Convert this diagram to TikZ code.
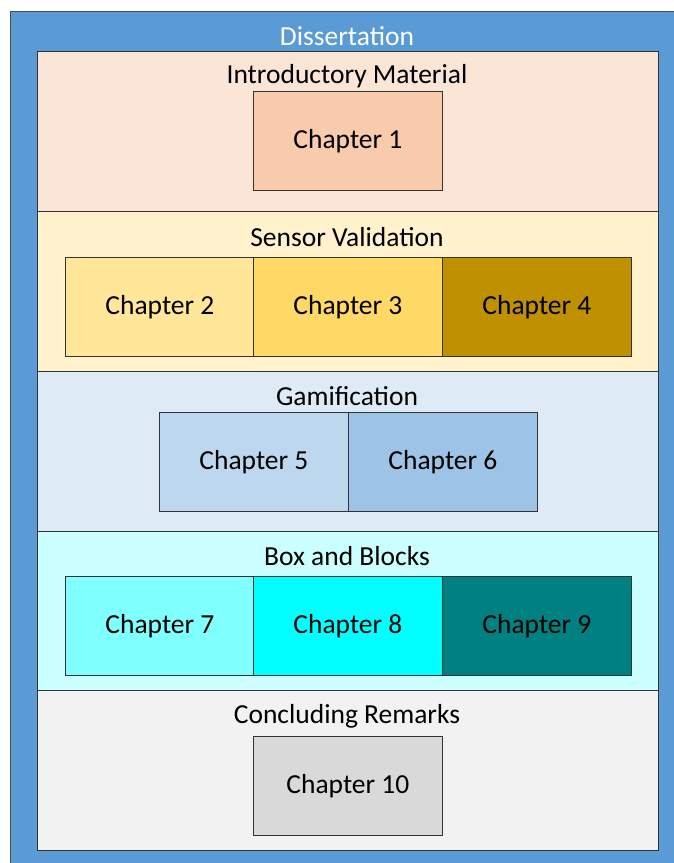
\documentclass[tikz,border=0pt]{standalone}
\usepackage{fontspec}
\setmainfont{Carlito}
\definecolor{frameblue}{HTML}{5B9BD5}
\definecolor{introband}{HTML}{FBE5D6}
\definecolor{introbox}{HTML}{F8CBAD}
\definecolor{sensorband}{HTML}{FFF2CC}
\definecolor{sensorA}{HTML}{FFE699}
\definecolor{sensorB}{HTML}{FFD966}
\definecolor{sensorC}{HTML}{BF9000}
\definecolor{gameband}{HTML}{DEEBF7}
\definecolor{gameA}{HTML}{BDD7EE}
\definecolor{gameB}{HTML}{9DC3E6}
\definecolor{boxband}{HTML}{CCFFFF}
\definecolor{boxA}{HTML}{80FFFF}
\definecolor{boxB}{HTML}{00FFFF}
\definecolor{boxC}{HTML}{008080}
\definecolor{concband}{HTML}{F2F2F2}
\definecolor{concbox}{HTML}{D9D9D9}
\begin{document}
\begin{tikzpicture}[
    x=1pt, y=-1pt,
    font=\fontsize{27.5}{31}\selectfont,
    band/.style={draw=black!80, line width=0.8pt, minimum width=621pt, minimum height=160pt, anchor=north west, inner sep=0pt},
    chap/.style={draw=black!80, line width=0.8pt, minimum width=189pt, minimum height=99pt, anchor=north west, inner sep=0pt},
    title/.style={anchor=center, inner sep=0pt}
]
\useasboundingbox (0,0) rectangle (674,863);

% Outer frame
\node[draw=black!70, line width=1pt, fill=frameblue, minimum width=680pt, minimum height=870pt, anchor=north west, inner sep=0pt] (diss) at (10,11) {};
\node[title, text=white] (disstitle) at (347,36) {Dissertation};

% Introductory material
\node[band, fill=introband] (intro) at (37,51) {};
\node[title] (introtitle) at (347,76) {Introductory Material};
\node[chap, fill=introbox] (ch1) at (253,91) {Chapter 1};

% Sensor validation
\node[band, fill=sensorband] (sensor) at (37,211) {};
\node[title] (sensortitle) at (347,237) {Sensor Validation};
\node[chap, fill=sensorA] (ch2) at (65,257) {Chapter 2};
\node[chap, fill=sensorB] (ch3) at (253,257) {Chapter 3};
\node[chap, fill=sensorC] (ch4) at (442,257) {Chapter 4};

% Gamification
\node[band, fill=gameband] (game) at (37,371) {};
\node[title] (gametitle) at (347,396) {Gamification};
\node[chap, fill=gameA] (ch5) at (159,412) {Chapter 5};
\node[chap, fill=gameB] (ch6) at (348,412) {Chapter 6};

% Box and blocks
\node[band, fill=boxband] (boxes) at (37,531) {};
\node[title] (boxestitle) at (347,556) {Box and Blocks};
\node[chap, fill=boxA] (ch7) at (65,576) {Chapter 7};
\node[chap, fill=boxB] (ch8) at (253,576) {Chapter 8};
\node[chap, fill=boxC] (ch9) at (442,576) {Chapter 9};

% Concluding remarks
\node[band, fill=concband] (conc) at (37,690) {};
\node[title] (conctitle) at (347,716) {Concluding Remarks};
\node[chap, fill=concbox] (ch10) at (253,736) {Chapter 10};

\end{tikzpicture}
\end{document}
